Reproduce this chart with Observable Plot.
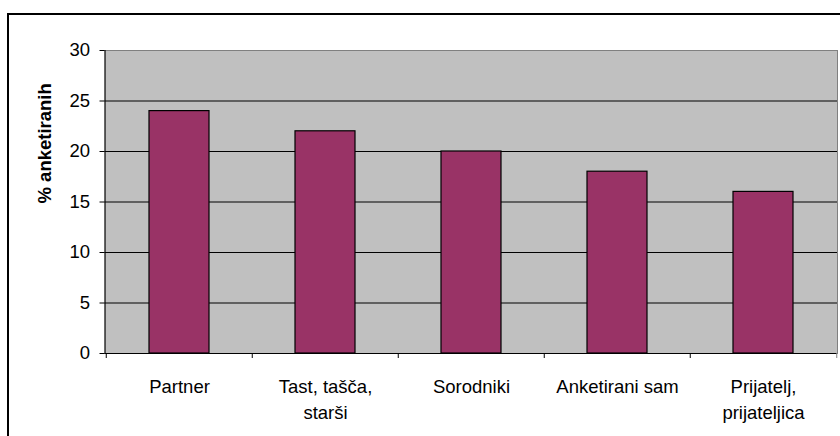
<!DOCTYPE html>
<html>
<head>
<meta charset="utf-8">
<script src="https://cdn.jsdelivr.net/npm/d3@7"></script>
<script src="https://cdn.jsdelivr.net/npm/@observablehq/plot@0.6"></script>
<style>
  html, body { margin: 0; padding: 0; background: #fff; }
  #chart svg { display: block; }
</style>
</head>
<body>
<div id="chart"></div>
<script>
const categories = ["Partner", "Tast, tašča,\nstarši", "Sorodniki", "Anketirani sam", "Prijatelj,\nprijateljica"];
const values = [24, 22, 20, 18, 16];
const yTicks = [0, 5, 10, 15, 20, 25, 30];
const gridTicks = [5, 10, 15, 20, 25];
const yLabel = "% anketiranih";

const data = categories.map((c, i) => ({category: c, value: values[i]}));

const W = 840, H = 436;
const mL = 104.5, mR = 3, mT = 50, mB = 83;
const nCat = categories.length;
const step = (W - mL - mR) / nCat;

const font = "'Liberation Sans', Arial, sans-serif";

const chart = Plot.plot({
  width: W,
  height: H,
  marginLeft: mL,
  marginRight: mR,
  marginTop: mT,
  marginBottom: mB,
  style: {fontFamily: font, fontSize: "18.5px", color: "#000", background: "#fff"},
  x: {domain: categories, paddingInner: 0.59, paddingOuter: 0.295, label: null},
  y: {domain: [0, 30], label: null},
  marks: [
    Plot.frame({fill: "#C0C0C0", stroke: "none"}),
    Plot.ruleY(gridTicks, {stroke: "#000", strokeWidth: 1}),
    Plot.ruleY([30], {stroke: "#808080", strokeWidth: 1}),
    Plot.frame({anchor: "right", stroke: "#808080"}),
    Plot.barY(data, {x: "category", y: "value", fill: "#993366", stroke: "#000", strokeWidth: 1.2}),
    Plot.ruleY([0], {stroke: "#000", strokeWidth: 1.2}),
    Plot.frame({anchor: "left", stroke: "#000", strokeWidth: 1.2}),
    // category boundary ticks below the axis
    Plot.ruleX(categories, {x: d => d, dx: -step / 2, y1: 0, y2: 0, insetBottom: -5, stroke: "#000"}),
    Plot.ruleX(categories.slice(-1), {x: d => d, dx: step / 2, y1: 0, y2: 0, insetBottom: -5, stroke: "#808080"}),
    Plot.axisY({ticks: yTicks, tickSize: 5, tickPadding: 10, fontSize: 18.5, label: null}),
    Plot.axisX({tickSize: 0, tickPadding: 21, fontSize: 18.5, lineHeight: 1.42, label: null}),
    Plot.text([yLabel], {frameAnchor: "left", rotate: -90, dx: -60, dy: 1.5, fontWeight: "bold", fontSize: 18.5, fill: "#000"})
  ]
});

// outer chart border
d3.select(chart).append("rect")
  .attr("x", 8).attr("y", 14)
  .attr("width", W).attr("height", H)
  .attr("fill", "none").attr("stroke", "#000").attr("stroke-width", 2);

document.getElementById("chart").appendChild(chart);
</script>
</body>
</html>
